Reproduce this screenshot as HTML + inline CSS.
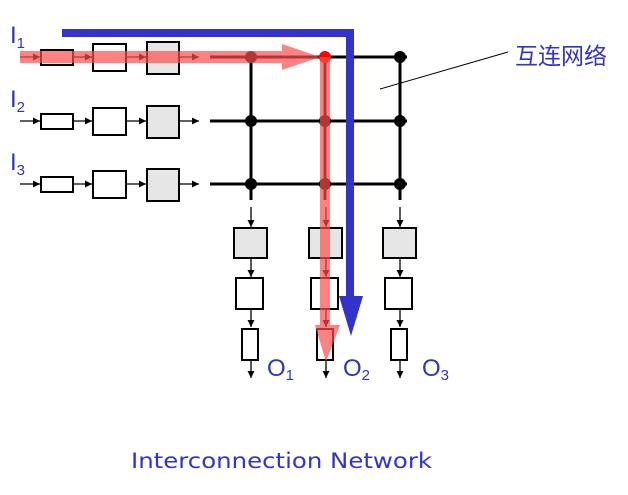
<!DOCTYPE html>
<html><head><meta charset="utf-8"><style>
html,body{margin:0;padding:0;background:#fff;width:628px;height:495px;overflow:hidden}
</style></head><body>
<svg width="628" height="495" viewBox="0 0 628 495" xmlns="http://www.w3.org/2000/svg">
<defs>
<marker id="a" viewBox="0 0 10 10" refX="10" refY="5" markerWidth="7" markerHeight="7" markerUnits="userSpaceOnUse" orient="auto"><path d="M0,0 L10,5 L0,10 z" fill="#000"/></marker>
</defs>
<g font-family="Liberation Sans, sans-serif" fill="#3333bb">
<text x="10" y="43" font-size="24">I<tspan font-size="15" dy="5">1</tspan></text>
<text x="10" y="107" font-size="24">I<tspan font-size="15" dy="5">2</tspan></text>
<text x="10" y="170" font-size="24">I<tspan font-size="15" dy="5">3</tspan></text>
</g>
<g stroke="#000" stroke-width="1.3">
<g id="row">
<line x1="20" y1="57" x2="40" y2="57" marker-end="url(#a)"/>
<rect x="41" y="50" width="32" height="15" fill="#fff" stroke-width="2"/>
<line x1="73" y1="57" x2="92" y2="57" marker-end="url(#a)"/>
<rect x="93" y="44" width="33" height="27" fill="#fff" stroke-width="2"/>
<line x1="126" y1="57" x2="146" y2="57" marker-end="url(#a)"/>
<rect x="147" y="42" width="32" height="32" fill="#e6e6e6" stroke-width="2"/>
<line x1="179" y1="57" x2="199" y2="57" marker-end="url(#a)"/>
</g>
<use href="#row" y="64"/>
<use href="#row" y="127"/>
<g stroke-width="3">
<line x1="210" y1="57" x2="407" y2="57"/>
<line x1="210" y1="121" x2="407" y2="121"/>
<line x1="210" y1="184" x2="407" y2="184"/>
<line x1="251" y1="57" x2="251" y2="200"/>
<line x1="325" y1="57" x2="325" y2="200"/>
<line x1="400" y1="57" x2="400" y2="200"/>
</g>
<g id="col">
<line x1="251" y1="207" x2="251" y2="227" marker-end="url(#a)"/>
<rect x="234" y="228" width="33" height="30" fill="#e6e6e6" stroke-width="2"/>
<line x1="251" y1="258" x2="251" y2="277" marker-end="url(#a)"/>
<rect x="236" y="278" width="27" height="31" fill="#fff" stroke-width="2"/>
<line x1="251" y1="309" x2="251" y2="327" marker-end="url(#a)"/>
<rect x="242" y="329" width="16" height="31" fill="#fff" stroke-width="2"/>
<line x1="251" y1="360" x2="251" y2="378" marker-end="url(#a)"/>
</g>
<use href="#col" x="75"/>
<use href="#col" x="149"/>
</g>
<g fill="#000">
<circle cx="251" cy="57" r="6"/><circle cx="325" cy="57" r="6" fill="#f00"/><circle cx="400" cy="57" r="6"/>
<circle cx="251" cy="121" r="6"/><circle cx="325" cy="121" r="6"/><circle cx="400" cy="121" r="6"/>
<circle cx="251" cy="184" r="6"/><circle cx="325" cy="184" r="6"/><circle cx="400" cy="184" r="6"/>
</g>
<path d="M62,33 L350,33 L350,300" fill="none" stroke="#3333cc" stroke-width="8"/>
<path d="M339,296 L363,296 L351,336 z" fill="#3333cc"/>
<g fill="#ff4d4d" opacity="0.7">
<rect x="20" y="51" width="266" height="12"/>
<path d="M282,44 L320,57 L282,70 z"/>
<rect x="320" y="57" width="10" height="270"/>
<path d="M315,325 L340,325 L326,362 z"/>
</g>
<line x1="380" y1="89" x2="508" y2="52" stroke="#000" stroke-width="1"/>
<text x="515" y="64" font-family="Liberation Sans, Noto Sans CJK SC, sans-serif" font-size="23" fill="#3333bb">互连网络</text>
<g font-family="Liberation Sans, sans-serif" fill="#3333bb" font-size="24">
<text x="267" y="376">O<tspan font-size="15" dy="4">1</tspan></text>
<text x="343" y="376">O<tspan font-size="15" dy="4">2</tspan></text>
<text x="422" y="376">O<tspan font-size="15" dy="4">3</tspan></text>
</g>
<text x="131" y="468" textLength="301" lengthAdjust="spacingAndGlyphs" font-family="DejaVu Sans, sans-serif" font-size="21" fill="#3333cc">Interconnection Network</text>
</svg>
</body></html>
